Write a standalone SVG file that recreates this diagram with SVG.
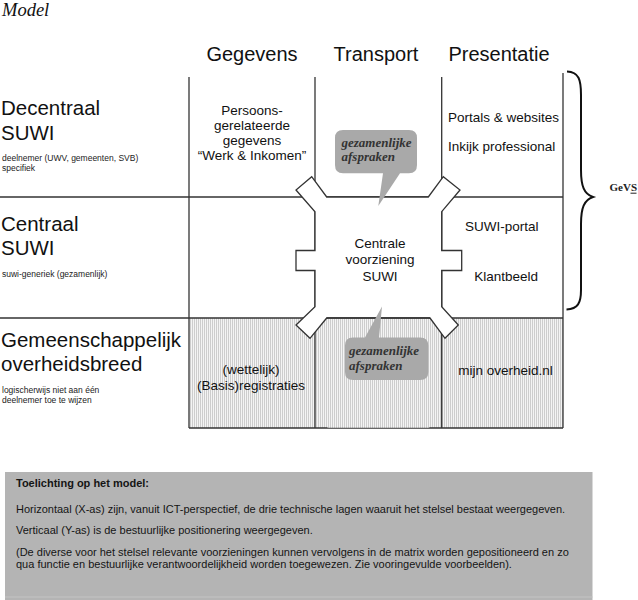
<svg xmlns="http://www.w3.org/2000/svg" width="638" height="600" viewBox="0 0 638 600">
<style>
.sans{font-family:"Liberation Sans",Arial,sans-serif;fill:#111}
.big{font-size:20.5px}
.hdr{font-size:20px;text-anchor:middle}
.cell{font-size:13.5px}
.mid{text-anchor:middle}
.small{font-size:8.5px;fill:#222}
.bub{font-family:"Liberation Serif","Times New Roman",serif;font-style:italic;font-weight:bold;font-size:13px;fill:#333}
.grid{stroke:#333;stroke-width:1.3;fill:none}
.note{font-size:11px;fill:#151515}
</style>
<defs>
<pattern id="hatch" width="2" height="4" patternUnits="userSpaceOnUse">
<rect width="2" height="4" fill="#f4f4f4"/>
<rect width="1" height="4" fill="#cdcdcd"/>
</pattern>
</defs>
<rect width="638" height="600" fill="#fff"/>
<text x="2" y="16" font-family="Liberation Serif,serif" font-style="italic" font-size="18.5" fill="#111">Model</text>

<g id="headers">
<text class="sans hdr" x="252" y="61">Gegevens</text>
<text class="sans hdr" x="376" y="61">Transport</text>
<text class="sans hdr" x="499" y="61">Presentatie</text>
</g>

<g id="hatched-row">
<rect x="189" y="318" width="374" height="110" fill="url(#hatch)"/>
</g>

<g id="grid" class="grid">
<line x1="0" y1="197" x2="563" y2="197"/>
<line x1="0" y1="318" x2="563" y2="318"/>
<line x1="189" y1="428" x2="563" y2="428"/>
<line x1="189" y1="77" x2="189" y2="428"/>
<line x1="315" y1="77" x2="315" y2="428"/>
<line x1="441.7" y1="77" x2="441.7" y2="428"/>
<line x1="563" y1="73" x2="563" y2="428"/>
</g>

<g id="row-labels">
<text class="sans big" x="1" y="115">Decentraal</text>
<text class="sans big" x="1" y="139.5">SUWI</text>
<text class="sans small" x="2" y="161">deelnemer (UWV, gemeenten, SVB)</text>
<text class="sans small" x="2" y="170.5">specifiek</text>
<text class="sans big" x="1" y="230.5">Centraal</text>
<text class="sans big" x="1" y="255">SUWI</text>
<text class="sans small" x="2" y="277">suwi-generiek (gezamenlijk)</text>
<text class="sans big" x="1" y="346.5">Gemeenschappelijk</text>
<text class="sans big" x="1" y="371">overheidsbreed</text>
<text class="sans small" x="2" y="393">logischerwijs niet aan één</text>
<text class="sans small" x="2" y="403">deelnemer toe te wijzen</text>
</g>

<g id="cell-gegevens-decentraal">
<text class="sans cell mid" x="252" y="115">Persoons-</text>
<text class="sans cell mid" x="252" y="130">gerelateerde</text>
<text class="sans cell mid" x="252" y="145">gegevens</text>
<text class="sans cell mid" x="252" y="160">“Werk &amp; Inkomen”</text>
</g>

<g id="cell-presentatie-decentraal">
<text class="sans cell" x="448" y="122">Portals &amp; websites</text>
<text class="sans cell" x="448" y="150.5">Inkijk professional</text>
</g>

<g id="cell-presentatie-centraal">
<text class="sans cell" x="465" y="230.7">SUWI-portal</text>
<text class="sans cell" x="474.3" y="280.5">Klantbeeld</text>
</g>

<g id="cell-gegevens-gemeenschappelijk">
<text class="sans cell mid" x="251" y="374">(wettelijk)</text>
<text class="sans cell mid" x="251" y="390">(Basis)registraties</text>
</g>

<g id="cell-presentatie-gemeenschappelijk">
<text class="sans cell" x="458.3" y="375">mijn overheid.nl</text>
</g>

<g id="centrale-voorziening">
<path d="M326.7,197 L428.3,197 L443.3,176.7 L460,190 L441.7,211.7 L441.7,250.5 L461.7,250.5 L461.7,270.5 L441.7,270.5 L441.7,306.7 L458.3,325 L445,338.3 L430,318 L326.7,318 L310,338.3 L296,325 L315,306.7 L315,270.5 L296,270.5 L296,250.5 L315,250.5 L315,211.7 L296,190 L311.7,176.7 Z" fill="#fff" stroke="#333" stroke-width="1.3"/>
<rect x="327.5" y="318.7" width="101.8" height="109" fill="url(#hatch)"/>
<line x1="326.7" y1="318" x2="430" y2="318" stroke="#333" stroke-width="1.3"/>
<text class="sans cell mid" x="380" y="247.5">Centrale</text>
<text class="sans cell mid" x="380" y="264">voorziening</text>
<text class="sans cell mid" x="380" y="280.7">SUWI</text>
</g>

<g id="bubble-top">
<path d="M343,130 H409 Q417,130 417,138 V165 Q417,173.3 409,173.3 H400 L378.3,206 L383,173.3 H343 Q335,173.3 335,165 V138 Q335,130 343,130 Z" fill="#a9a9a9"/>
<text class="bub" x="341.5" y="147">gezamenlijke</text>
<text class="bub" x="341.5" y="161">afspraken</text>
</g>

<g id="bubble-bottom">
<path d="M353,337.5 H365 L382,306.5 L379,337.5 H420 Q428.3,337.5 428.3,345.5 V372 Q428.3,380 420,380 H353 Q345,380 345,372 V345.5 Q345,337.5 353,337.5 Z" fill="#a9a9a9"/>
<text class="bub" x="349" y="355">gezamenlijke</text>
<text class="bub" x="349" y="369.5">afspraken</text>
</g>

<g id="gevs">
<path d="M567,71.5 C579,72 581,80 581,95 L581,170 C581,186 584,194 593,197 C584,200 581,208 581,224 L581,290 C581,303 578,309 566.5,309.5" fill="none" stroke="#111" stroke-width="2"/>
<text x="609.5" y="191" font-family="Liberation Serif,serif" font-weight="bold" font-size="11" fill="#222">GeVS</text>
<line x1="630.5" y1="193.2" x2="636.5" y2="193.2" stroke="#222" stroke-width="1"/>
</g>

<g id="toelichting">
<rect x="5" y="472" width="587.5" height="128" fill="#b4b4b4"/>
<line x1="5" y1="597" x2="592.5" y2="597" stroke="#c4c4c4" stroke-width="1"/>
<text class="sans note" x="16" y="487.3" font-weight="bold">Toelichting op het model:</text>
<text class="sans note" x="16" y="512.7">Horizontaal (X-as) zijn, vanuit ICT-perspectief, de drie technische lagen waaruit het stelsel bestaat weergegeven.</text>
<text class="sans note" x="16" y="534">Verticaal (Y-as) is de bestuurlijke positionering weergegeven.</text>
<text class="sans note" x="16" y="556">(De diverse voor het stelsel relevante voorzieningen kunnen vervolgens in de matrix worden gepositioneerd en zo</text>
<text class="sans note" x="16" y="567.7">qua functie en bestuurlijke verantwoordelijkheid worden toegewezen. Zie vooringevulde voorbeelden).</text>
</g>
</svg>
